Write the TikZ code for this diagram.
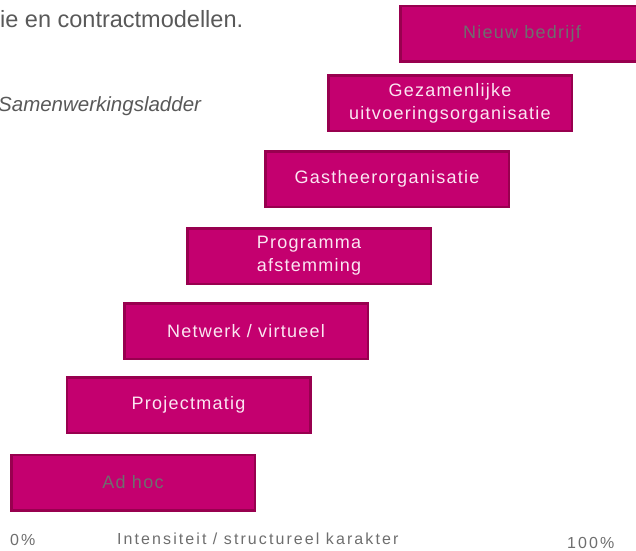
\documentclass[tikz,border=0pt]{standalone}
\usepackage{fontspec}
\setmainfont{Liberation Sans}
\newfontfamily\rungfont[LetterSpace=7]{Liberation Sans}
\newfontfamily\axisfont[LetterSpace=13]{Liberation Sans}
\definecolor{rungfill}{HTML}{C4006F}
\definecolor{rungline}{HTML}{98004F}
\definecolor{rungtext}{HTML}{FBE6F2}
\definecolor{dimtext}{HTML}{6E6E6E}
\definecolor{headtext}{HTML}{595959}
\begin{document}
\begin{tikzpicture}[x=1pt,y=-1pt]
\tikzstyle{rung}=[draw=rungline,fill=rungfill,line width=2.5pt,minimum width=243.5pt,minimum height=55.5pt,inner sep=0pt,align=center,text=rungtext,font=\rungfont\fontsize{18}{23}\selectfont]
\tikzstyle{axis}=[inner sep=0pt,text=dimtext,font=\axisfont\fontsize{16}{19}\selectfont]
\useasboundingbox (0,0) rectangle (636,550);
\node [inner sep=0pt,anchor=west,text=headtext,font=\fontsize{23.5}{28}\selectfont] (head) at (0,19) {ie en contractmodellen.};
\node [inner sep=0pt,anchor=west,text=headtext,font=\itshape\fontsize{20.5}{24}\selectfont] (title) at (-2,106) {Samenwerkingsladder};
\node [rung,text=dimtext] (adhoc) at (133,482.5) {Ad hoc};
\node [rung] (project) at (188.5,405) {Projectmatig};
\node [rung] (netwerk) at (246,331) {Netwerk / virtueel};
\node [rung] (programma) at (309,256) {Programma\\afstemming};
\node [rung] (gastheer) at (387,179) {Gastheerorganisatie};
\node [rung] (gezamenlijk) at (450,103) {Gezamenlijke\\uitvoeringsorganisatie};
\node [rung,text=dimtext] (nieuw) at (522,33.5) {Nieuw bedrijf};
\node [axis,anchor=west] (nul) at (10,540) {0\%};
\node [axis,anchor=west] (as) at (117,539) {Intensiteit / structureel karakter};
\node [axis,anchor=west] (vol) at (567,542.5) {100\%};
\end{tikzpicture}
\end{document}
